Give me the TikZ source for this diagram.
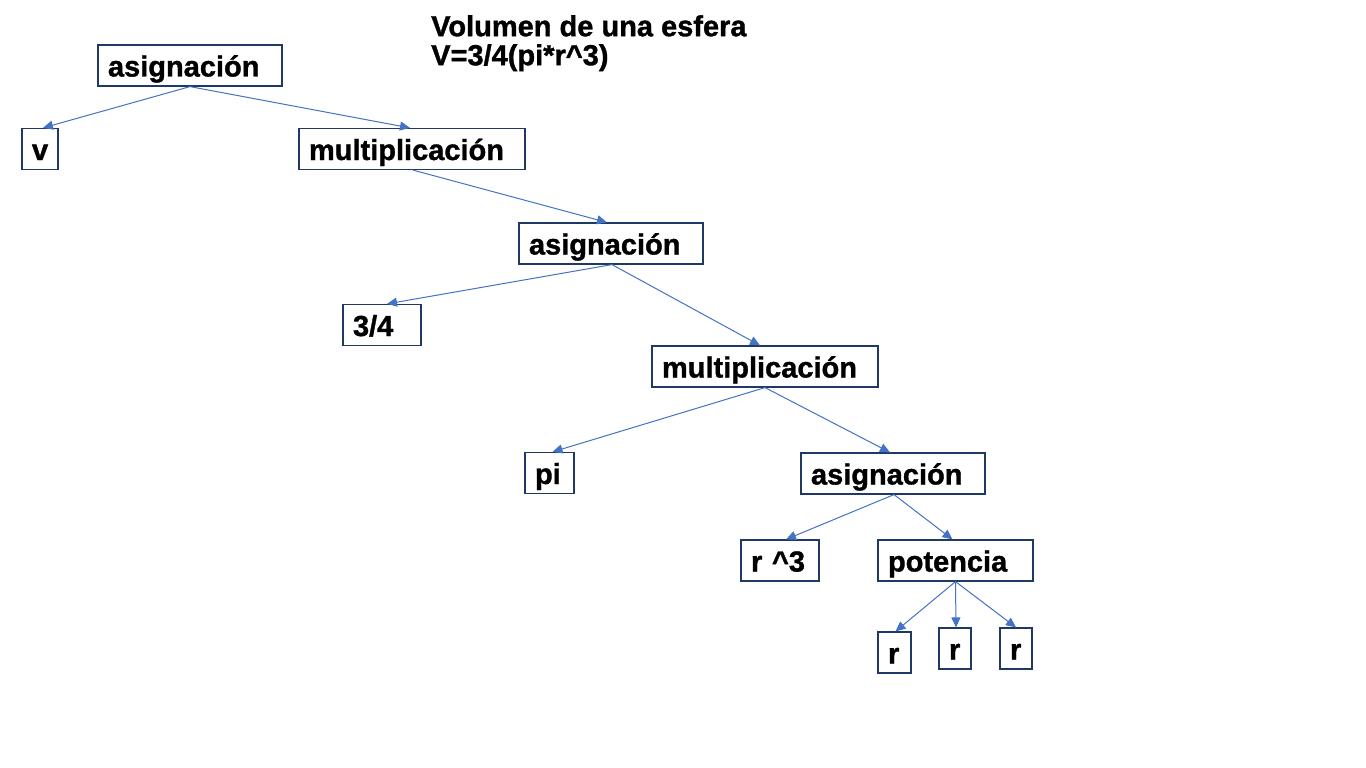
\documentclass[tikz,border=0pt]{standalone}
\usepackage{fontspec}
\setmainfont{Liberation Sans}[BoldFeatures={FakeBold=1.2}]
\usetikzlibrary{arrows.meta}
\definecolor{boxline}{RGB}{32,56,100}
\definecolor{arrowblue}{RGB}{68,114,196}
\tikzset{
  treebox/.style={draw=boxline, line width=1.2pt, fill=white, inner xsep=10pt,
    minimum height=41pt, text height=25pt, text depth=3pt, text width=#1, align=left,
    font=\fontsize{29pt}{33pt}\selectfont\bfseries},
  link/.style={draw=arrowblue, line width=1pt, -{Triangle[length=10pt,width=9pt]}},
  titletext/.style={anchor=north west, inner sep=0pt, align=left,
    font=\fontsize{29pt}{29pt}\selectfont\bfseries}
}
\begin{document}
\begin{tikzpicture}[x=1pt,y=-1pt]
\fill[white] (0,0) rectangle (1366,768);
\useasboundingbox (0,0) rectangle (1366,768);

\node[titletext] (title) at (431,15) {Volumen de una esfera\\V=3/4(pi*r\^{}3)};

\node[treebox=164pt] (asig1) at (190,65.5) {asignación};
\node[treebox=16pt] (v) at (40,149) {v};
\node[treebox=206pt] (mult1) at (412,149) {multiplicación};
\node[treebox=164pt] (asig2) at (611,243.5) {asignación};
\node[treebox=58pt] (frac) at (382,325) {3/4};
\node[treebox=206pt] (mult2) at (765,366.5) {multiplicación};
\node[treebox=29pt] (pi) at (549.5,473) {pi};
\node[treebox=164pt] (asig3) at (893,473.5) {asignación};
\node[treebox=58pt] (rcube) at (780,560.5) {r \^{}3};
\node[treebox=135pt] (pot) at (955.5,560.5) {potencia};
\node[treebox=13pt] (r1) at (894.5,652.5) {r};
\node[treebox=12pt] (r2) at (955,648.5) {r};
\node[treebox=12pt] (r3) at (1016,648.5) {r};

\draw[link] (asig1.south) -- ([xshift=3pt]v.north);
\draw[link] (asig1.south) -- ([xshift=-2pt]mult1.north);
\draw[link] ([xshift=1pt]mult1.south) -- ([xshift=-4pt]asig2.north);
\draw[link] ([xshift=1pt]asig2.south) -- ([xshift=5pt]frac.north);
\draw[link] ([xshift=1pt]asig2.south) -- ([xshift=-5pt]mult2.north);
\draw[link] (mult2.south) -- ([xshift=3pt]pi.north);
\draw[link] (mult2.south) -- ([xshift=-3pt]asig3.north);
\draw[link] ([xshift=1pt]asig3.south) -- ([xshift=6pt]rcube.north);
\draw[link] ([xshift=1pt]asig3.south) -- ([xshift=-3pt]pot.north);
\draw[link] (pot.south) -- ([xshift=1pt]r1.north);
\draw[link] (pot.south) -- ([xshift=1pt]r2.north);
\draw[link] (pot.south) -- (r3.north);
\end{tikzpicture}
\end{document}
